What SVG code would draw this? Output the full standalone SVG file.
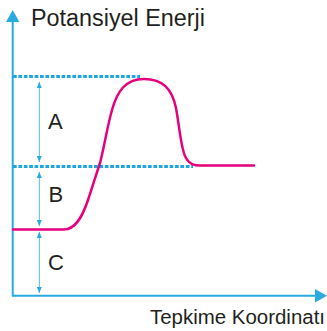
<svg xmlns="http://www.w3.org/2000/svg" width="327" height="331" viewBox="0 0 327 331">
<defs>
<style>
.axis{stroke:#29abe2;stroke-width:2;fill:none}
.ah{fill:#29abe2}
.dash{stroke:#1fa5df;stroke-width:3;stroke-dasharray:3.7 1.7;fill:none}
.dim{stroke:#5bb8e3;stroke-width:1;fill:none}
.curve{stroke:#e6007e;stroke-width:2.5;fill:none;stroke-linecap:round}
text{font-family:"Liberation Sans",Arial,sans-serif;fill:#231f20}
</style>
<marker id="mh" viewBox="0 0 6 5" refX="6" refY="2.5" markerWidth="6" markerHeight="5" markerUnits="userSpaceOnUse" orient="auto-start-reverse"><path d="M0,0 L6,2.5 L0,5 z" fill="#29abe2"/></marker>
</defs>
<g id="connectors">
<path class="axis" d="M12.7,296 V20 M12,295.7 H317"/>
<polygon class="ah" points="6,22 12.7,10 19.4,22"/>
<polygon class="ah" points="315,289 327,295.7 315,302.4"/>
<path class="dash" d="M13,76.5 H140"/>
<path class="dash" d="M13,166.5 H193"/>
<path class="dim" d="M39.3,82 V162" marker-start="url(#mh)" marker-end="url(#mh)"/>
<path class="dim" d="M39.3,172 V226" marker-start="url(#mh)" marker-end="url(#mh)"/>
<path class="dim" d="M39.3,232 V293" marker-start="url(#mh)" marker-end="url(#mh)"/>
<path class="curve" d="M13,229.5 H64 C75,229.5 82,218 88,200 C93,185 97,172 100,163 C104,148 107,128 112,110 C117,92 125,79 144,79 C163,79 172,89 176,108 C180,130 181,150 186,158 C190,165 195,165.5 200,165.5 H254"/>
</g>
<g id="title"><text x="31" y="26" font-size="23.5" textLength="174" lengthAdjust="spacingAndGlyphs">Potansiyel Enerji</text></g>
<g id="xlabel"><text x="150" y="324" font-size="20.5" textLength="175" lengthAdjust="spacingAndGlyphs">Tepkime Koordinatı</text></g>
<g id="labelA"><text x="48" y="129" font-size="22">A</text></g>
<g id="labelB"><text x="48.5" y="202" font-size="22">B</text></g>
<g id="labelC"><text x="48" y="270" font-size="22">C</text></g>
</svg>
